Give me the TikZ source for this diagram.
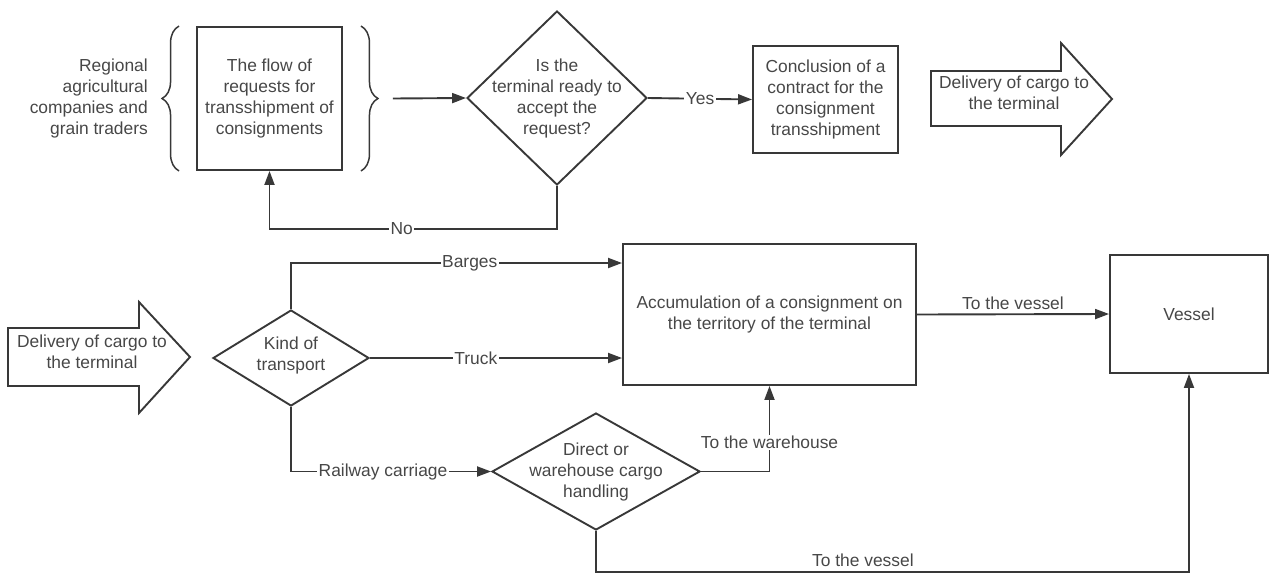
\documentclass[tikz,border=0pt]{standalone}
\usepackage{fontspec}
\setmainfont{Liberation Sans}
\usetikzlibrary{shapes.geometric,arrows.meta,decorations.pathreplacing}

\begin{document}
\begin{tikzpicture}[x=1pt, y=-1pt, font=\fontsize{17.4}{21}\selectfont, text=black!72,
  line/.style={draw=black!78, line width=1.9pt},
  arr/.style={line, -{Triangle[length=14pt,width=10pt]}},
  box/.style={line, align=center, inner sep=2pt},
  dia/.style={line, diamond, inner sep=0pt},
  txt/.style={align=center, inner sep=0pt},
  lbl/.style={fill=white, inner sep=1.5pt}]
  \useasboundingbox (0,0) rectangle (1269,573);
  % Requests
  \node[txt, align=right, anchor=east] (firms) at (148,98) {Regional\\agricultural\\companies and\\grain traders};
  \node[box, minimum width=145pt, minimum height=143pt] (req) at (269.5,98.5) {The flow of\\requests for\\transshipment of\\consignments};
  \draw[line, line width=1.5pt, decorate, decoration={brace, amplitude=17pt}]
    ([xshift=-17pt]req.south west) -- ([xshift=-17pt]req.north west);
  \draw[line, line width=1.5pt, decorate, decoration={brace, amplitude=17pt}]
    ([xshift=18pt]req.north east) -- ([xshift=18pt]req.south east);
  \coordinate (req-tip) at ([xshift=50pt]req.east);
  % Decision on the request
  \node[dia, minimum width=180pt, minimum height=174pt] (ready) at (557,98) {};
  \node[txt] (ready-txt) at (ready) {Is the\\terminal ready to\\accept the\\request?};
  \node[box, minimum width=145pt, minimum height=107pt] (contract) at (825.5,99.5) {Conclusion of a\\contract for the\\consignment\\transshipment};
  % Delivery arrow (top)
  \draw[line] (931,71) -- (1061,71) -- (1061,43) -- (1112,99) -- (1061,155) -- (1061,126) -- (931,126) -- cycle;
  \node[txt] (deliv-top) at (1014,93) {Delivery of cargo to\\the terminal};
  % Delivery arrow (bottom)
  \draw[line] (8,328) -- (139,328) -- (139,302) -- (190,357) -- (139,413) -- (139,386) -- (8,386) -- cycle;
  \node[txt] (deliv-bot) at (92,352) {Delivery of cargo to\\the terminal};
  % Transport and handling
  \node[dia, minimum width=156pt, minimum height=96pt] (kind) at (291,358) {};
  \node[txt] (kind-txt) at (291,355) {Kind of\\transport};
  \node[box, minimum width=293pt, minimum height=141pt] (accum) at (769.5,314.5) {Accumulation of a consignment on\\the territory of the terminal};
  \node[box, minimum width=158pt, minimum height=118pt] (vessel) at (1189,314) {Vessel};
  \node[dia, minimum width=208pt, minimum height=117pt] (handle) at (596,471.5) {};
  \node[txt] (handle-txt) at (handle) {Direct or\\warehouse cargo\\handling};
  % Connectors
  \draw[arr] (req-tip) -- (ready.west);
  \draw[arr] (ready.east) -- node[lbl] {Yes} (contract.west);
  \draw[arr] (ready.south) -- ++(0,43) -| node[lbl, pos=0.27] {No} (req.south);
  \draw[arr] (kind.north) |- node[lbl, pos=0.77] {Barges} ([yshift=51.5pt]accum.west);
  \draw[arr] (kind.east) -- node[lbl, pos=0.42] {Truck} (kind.east -| accum.west);
  \draw[arr] (kind.south) |- node[lbl, pos=0.73] {Railway carriage} (handle.west);
  \draw[arr] (handle.east) -| node[lbl, pos=0.67] {To the warehouse} (accum.south);
  \draw[arr] (accum.east) -- node[above, inner sep=4pt] {To the vessel} (vessel.west);
  \draw[arr] (handle.south) -- ++(0,41) -| node[above, pos=0.225, inner sep=4pt] {To the vessel} (vessel.south);
\end{tikzpicture}
\end{document}
